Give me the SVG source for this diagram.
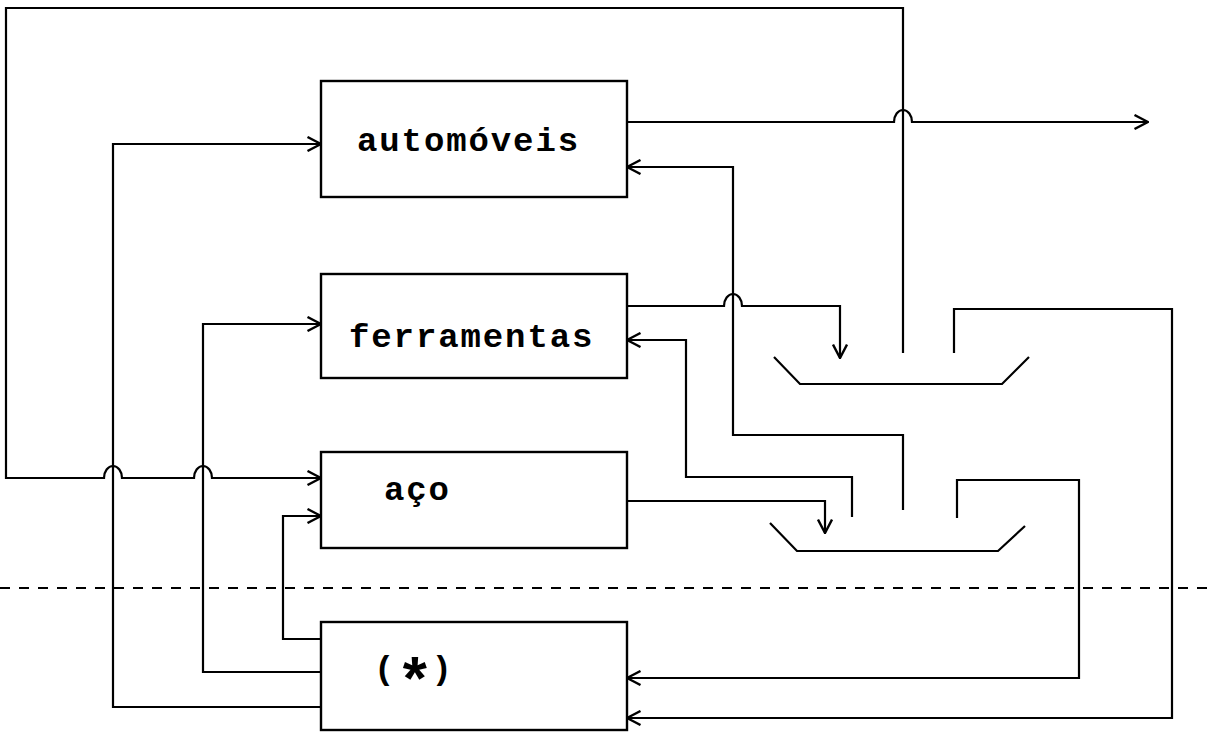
<svg xmlns="http://www.w3.org/2000/svg" width="1210" height="740" viewBox="0 0 1210 740">
<style>
.box{fill:#fff;stroke:#000;stroke-width:2.4}
.ln{fill:none;stroke:#000;stroke-width:2.2;stroke-linejoin:miter}
.arr{marker-end:url(#ah)}
.lbl{font-family:"Liberation Mono","Courier New",monospace;font-weight:bold;font-size:34px;letter-spacing:1.9px;fill:#000}
.dash{fill:none;stroke:#000;stroke-width:2;stroke-dasharray:10 9}
</style>
<defs>
<marker id="ah" viewBox="0 0 16 16" refX="15" refY="8" markerWidth="16" markerHeight="16" orient="auto" markerUnits="userSpaceOnUse">
<path d="M1.5,1 L15,8 L1.5,15" fill="none" stroke="#000" stroke-width="2.4"/>
</marker>
</defs>
<rect width="1210" height="740" fill="#fff"/>
<g id="connectors">
<path class="ln arr" d="M903,353 V8 H6 V478 H104 a9,12 0 0 1 18,0 H194 a9,12 0 0 1 18,0 H321"/>
<path class="ln arr" d="M627,122 H894 a9,12 0 0 1 18,0 H1148"/>
<path class="ln arr" d="M903,510 V435 H733 V167 H627"/>
<path class="ln arr" d="M627,306 H724 a9,12 0 0 1 18,0 H840 V358"/>
<path class="ln arr" d="M852,517 V477 H686 V340 H627"/>
<path class="ln arr" d="M627,501 H825 V533"/>
<path class="ln arr" d="M954,353 V309 H1172 V718 H627"/>
<path class="ln arr" d="M957,518 V480 H1079 V678 H627"/>
<path class="ln arr" d="M321,707 H113 V144 H321"/>
<path class="ln arr" d="M321,672 H203 V324 H321"/>
<path class="ln arr" d="M321,639 H283 V516 H321"/>
<path class="ln" d="M774,357 L800,384 H1002 L1029,357"/>
<path class="ln" d="M770,523 L797,551 H998 L1025,526"/>
<path class="dash" d="M0,588 H1210"/>
</g>
<g id="automoveis">
<rect class="box" x="321" y="81" width="306" height="116"/>
<text class="lbl" x="357" y="151">automóveis</text>
</g>
<g id="ferramentas">
<rect class="box" x="321" y="274" width="306" height="104"/>
<text class="lbl" x="349" y="347">ferramentas</text>
</g>
<g id="aco">
<rect class="box" x="321" y="452" width="306" height="96"/>
<text class="lbl" x="384" y="500">aço</text>
</g>
<g id="outro">
<rect class="box" x="321" y="622" width="306" height="108"/>
<text class="lbl" x="374" y="679">(<tspan font-size="62" dy="22" letter-spacing="-2">*</tspan><tspan dy="-22">)</tspan></text>
</g>
</svg>
